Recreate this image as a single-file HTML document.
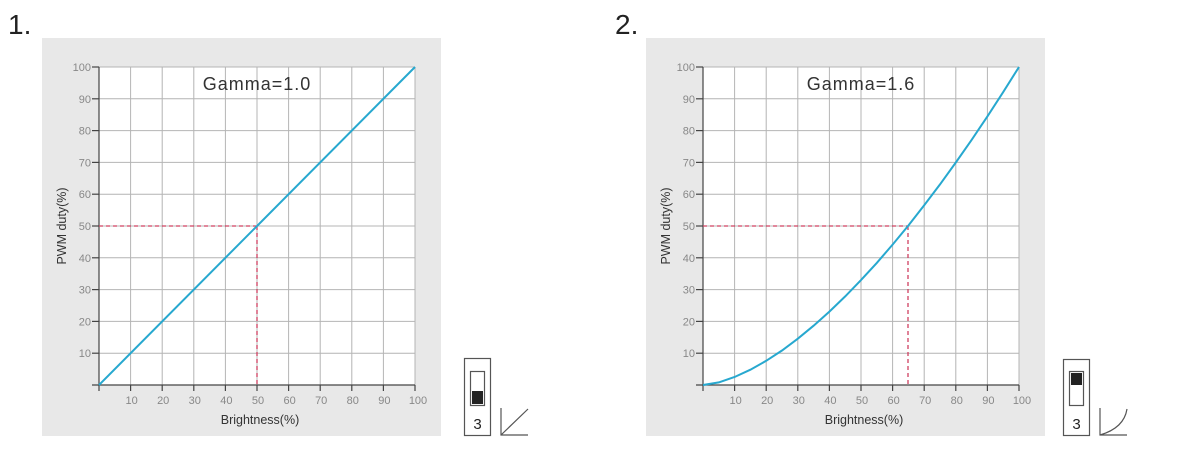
<!DOCTYPE html>
<html><head><meta charset="utf-8"><style>
html,body{margin:0;padding:0;background:#fff;}
svg{display:block;font-family:"Liberation Sans",sans-serif;}
</style></head><body>
<svg width="1200" height="455" viewBox="0 0 1200 455" xmlns="http://www.w3.org/2000/svg">
<defs>
<g id="grid">
  <rect x="42" y="38" width="399" height="398" fill="#e8e8e8"/>
  <rect x="99" y="67" width="316" height="318" fill="#fff"/>
  <g stroke="#b4b4b4" stroke-width="1">
    <line x1="130.6" y1="67" x2="130.6" y2="385"/><line x1="162.2" y1="67" x2="162.2" y2="385"/>
    <line x1="193.8" y1="67" x2="193.8" y2="385"/><line x1="225.4" y1="67" x2="225.4" y2="385"/>
    <line x1="257" y1="67" x2="257" y2="385"/><line x1="288.6" y1="67" x2="288.6" y2="385"/>
    <line x1="320.2" y1="67" x2="320.2" y2="385"/><line x1="351.8" y1="67" x2="351.8" y2="385"/>
    <line x1="383.4" y1="67" x2="383.4" y2="385"/><line x1="415" y1="67" x2="415" y2="385"/>
    <line x1="99" y1="67" x2="415" y2="67"/><line x1="99" y1="98.8" x2="415" y2="98.8"/>
    <line x1="99" y1="130.6" x2="415" y2="130.6"/><line x1="99" y1="162.4" x2="415" y2="162.4"/>
    <line x1="99" y1="194.2" x2="415" y2="194.2"/><line x1="99" y1="226" x2="415" y2="226"/>
    <line x1="99" y1="257.8" x2="415" y2="257.8"/><line x1="99" y1="289.6" x2="415" y2="289.6"/>
    <line x1="99" y1="321.4" x2="415" y2="321.4"/><line x1="99" y1="353.2" x2="415" y2="353.2"/>
  </g>
  <g stroke="#444" stroke-width="1.2">
    <line x1="99" y1="67" x2="99" y2="391"/><line x1="92" y1="385" x2="415" y2="385"/>
    <line x1="92" y1="67" x2="99" y2="67"/><line x1="92" y1="98.8" x2="99" y2="98.8"/>
    <line x1="92" y1="130.6" x2="99" y2="130.6"/><line x1="92" y1="162.4" x2="99" y2="162.4"/>
    <line x1="92" y1="194.2" x2="99" y2="194.2"/><line x1="92" y1="226" x2="99" y2="226"/>
    <line x1="92" y1="257.8" x2="99" y2="257.8"/><line x1="92" y1="289.6" x2="99" y2="289.6"/>
    <line x1="92" y1="321.4" x2="99" y2="321.4"/><line x1="92" y1="353.2" x2="99" y2="353.2"/>
    <line x1="130.6" y1="385" x2="130.6" y2="391"/><line x1="162.2" y1="385" x2="162.2" y2="391"/>
    <line x1="193.8" y1="385" x2="193.8" y2="391"/><line x1="225.4" y1="385" x2="225.4" y2="391"/>
    <line x1="257" y1="385" x2="257" y2="391"/><line x1="288.6" y1="385" x2="288.6" y2="391"/>
    <line x1="320.2" y1="385" x2="320.2" y2="391"/><line x1="351.8" y1="385" x2="351.8" y2="391"/>
    <line x1="383.4" y1="385" x2="383.4" y2="391"/><line x1="415" y1="385" x2="415" y2="391"/>
  </g>
  <g fill="#888" font-size="11" text-anchor="end">
    <text x="91" y="71">100</text><text x="91" y="102.8">90</text><text x="91" y="134.6">80</text>
    <text x="91" y="166.4">70</text><text x="91" y="198.2">60</text><text x="91" y="230">50</text>
    <text x="91" y="261.8">40</text><text x="91" y="293.6">30</text><text x="91" y="325.4">20</text>
    <text x="91" y="357.2">10</text>
  </g>
  <g fill="#888" font-size="11" text-anchor="middle">
    <text x="131.6" y="404">10</text><text x="163.2" y="404">20</text><text x="194.8" y="404">30</text>
    <text x="226.4" y="404">40</text><text x="258" y="404">50</text><text x="289.6" y="404">60</text>
    <text x="321.2" y="404">70</text><text x="352.8" y="404">80</text><text x="384.4" y="404">90</text>
    <text x="418" y="404">100</text>
  </g>
  <text x="260" y="424" font-size="12.5" fill="#333" text-anchor="middle">Brightness(%)</text>
  <text transform="translate(66,226) rotate(-90)" font-size="12.5" fill="#333" text-anchor="middle">PWM duty(%)</text>
</g>
</defs>

<text x="8" y="34" font-size="28" fill="#222">1.</text>
<use href="#grid"/>
<text x="257" y="90" font-size="18" fill="#333" text-anchor="middle" letter-spacing="1">Gamma=1.0</text>
<g stroke="#d04060" stroke-width="1.3" stroke-dasharray="4,3" fill="none">
  <line x1="99" y1="226" x2="257" y2="226"/><line x1="257" y1="226" x2="257" y2="385"/>
</g>
<line x1="99" y1="385" x2="415" y2="67" stroke="#27a8cf" stroke-width="2"/>
<rect x="464.5" y="358.5" width="26" height="77" fill="none" stroke="#555" stroke-width="1.2"/>
<rect x="470.5" y="371.5" width="14" height="34" fill="#fff" stroke="#555" stroke-width="1.2"/>
<rect x="472" y="391" width="11" height="13" fill="#222"/>
<text x="477.5" y="429" font-size="15" fill="#222" text-anchor="middle">3</text>
<path d="M501,408 L501,435 L528,435 M501,435 L528,409" stroke="#555" stroke-width="1.2" fill="none"/>

<text x="615" y="34" font-size="28" fill="#222">2.</text>
<use href="#grid" transform="translate(604,0)"/>
<text x="861" y="90" font-size="18" fill="#333" text-anchor="middle" letter-spacing="1">Gamma=1.6</text>
<g stroke="#d04060" stroke-width="1.3" stroke-dasharray="4,3" fill="none">
  <line x1="703" y1="226" x2="908" y2="226"/><line x1="908" y1="226" x2="908" y2="385"/>
</g>
<polyline points="703,385 718.8,382.4 734.6,377 750.4,369.7 766.2,360.8 782,350.5 797.8,338.7 813.6,325.7 829.4,311.6 845.2,296.4 861,280.1 876.8,262.9 892.6,244.6 908.4,225.5 924.2,205.3 940,184.4 955.8,162.5 971.6,139.9 987.4,116.4 1003.2,92.1 1019,67" fill="none" stroke="#27a8cf" stroke-width="2"/>
<rect x="1063.5" y="359.5" width="26" height="76" fill="none" stroke="#555" stroke-width="1.2"/>
<rect x="1069.5" y="371.5" width="14" height="34" fill="#fff" stroke="#555" stroke-width="1.2"/>
<rect x="1071" y="373" width="11" height="12" fill="#222"/>
<text x="1076.5" y="429" font-size="15" fill="#222" text-anchor="middle">3</text>
<path d="M1100,408 L1100,435 L1127,435 M1100,435 Q1124,428 1127,409" stroke="#555" stroke-width="1.2" fill="none"/>
</svg>
</body></html>
